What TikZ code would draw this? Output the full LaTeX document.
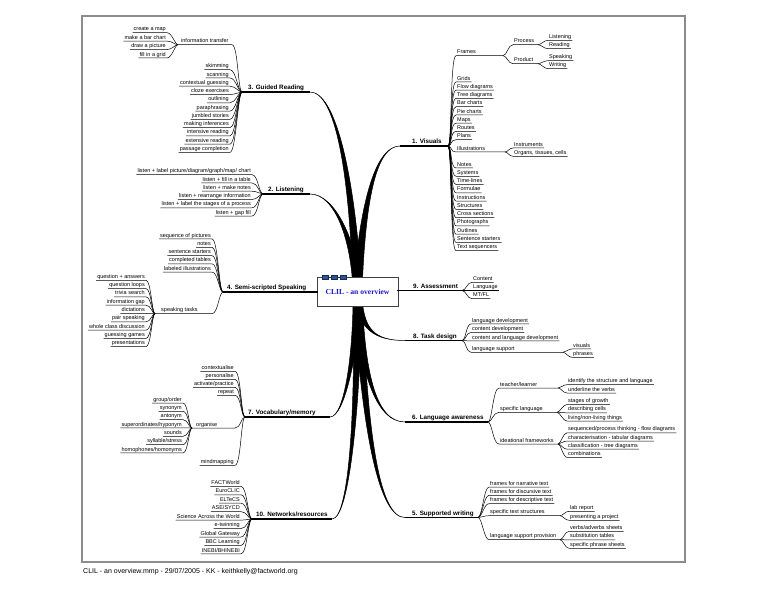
\documentclass[tikz,border=0pt]{standalone}
\usepackage{fontspec}
\setmainfont{Liberation Sans}
\newfontfamily\hubfont{Liberation Serif}
\usetikzlibrary{calc}

\definecolor{tabblue}{HTML}{2C5597}
\definecolor{hubblue}{HTML}{1A1AC8}

\tikzset{
  leaf/.style={font=\fontsize{5.5}{6}\selectfont,inner xsep=1pt,inner ysep=0.6pt,
    text height=4pt,text depth=1.1pt},
  topic/.style={font=\fontsize{6.3}{7}\selectfont\bfseries,anchor=south west,inner xsep=0pt,
    inner ysep=0.9pt,text height=4.6pt,text depth=1.3pt},
  twig/.style={line width=0.5pt},
  bough/.style={line width=1.1pt},
  hub/.style={draw=black!75,fill=white,line width=0.8pt,inner sep=0pt,
    minimum width=81pt,minimum height=29pt,text=hubblue,
    font=\hubfont\fontsize{7.6}{8}\selectfont\bfseries},
}

% tapered main branch from the hub: first control, second control, end
\newcommand\limb[3]{%
  \filldraw[line width=0.5pt] ($(ctr)+(-4.5,0)$) .. controls ($(#1)+(-2.5,0)$) and (#2) .. (#3)
    .. controls (#2) and ($(#1)+(2.5,0)$) .. ($(ctr)+(4.5,0)$) -- cycle;}

\begin{document}
\begin{tikzpicture}[x=1pt,y=-1pt]
\useasboundingbox (0,0) rectangle (768,593);
\draw[black!45,line width=1.5pt] (82,16) rectangle (685,562);

% hub and main branches
\coordinate (ctr) at (357.5,292);
\coordinate (gr-in) at (242,92);   \coordinate (gr-out) at (310,92);
\coordinate (li-in) at (263,194);  \coordinate (li-out) at (310,194);
\coordinate (ss-in) at (223,292);  \coordinate (ss-out) at (318,292);
\coordinate (vm-in) at (245,417);  \coordinate (vm-out) at (330,417);
\coordinate (nr-in) at (252,519);  \coordinate (nr-out) at (332,519);
\coordinate (vi-in) at (448,146);  \coordinate (vi-out) at (400,146);
\coordinate (as-in) at (462,290.5); \coordinate (as-out) at (397,290.5);
\coordinate (td-in) at (462,340.5); \coordinate (td-out) at (405,340.5);
\coordinate (la-in) at (488,422);  \coordinate (la-out) at (405,422);
\coordinate (sw-in) at (478,517.5); \coordinate (sw-out) at (405,517.5);

\limb{352,170}{335,92}{gr-out}
\limb{354,240}{335,194}{li-out}
\limb{356,350}{345,417}{vm-out}
\limb{358,400}{350,519}{nr-out}
\limb{363,195}{377,146}{vi-out}
\limb{360,330}{375,340.5}{td-out}
\limb{362,370}{375,422}{la-out}
\limb{365,440}{380,517.5}{sw-out}
\draw[bough] (ctr) -- (ss-out);
\draw[bough] (ctr) -- (as-out);

\node[hub] (hub) at (ctr) {CLIL - an overview};
\draw[tabblue!60!black,line width=0.6pt] (322,277.2) -- (346,277.2);
\foreach \x in {322,331,340}
  \filldraw[draw=tabblue!50!black,fill=tabblue,line width=0.4pt] (\x,275) rectangle +(6,4.5);

% 3. Guided Reading
\node[topic] (gr) at (248,92) {3. Guided Reading};
\draw[bough] (gr-in) -- (gr-out);
\node[leaf,anchor=south west] (it) at (180,44.7) {information transfer};
\coordinate (it-jn) at (178,44.7);
\coordinate (it-end) at (232,44.7);
\draw[twig] (it-jn) -- (it-end) .. controls +(6,0) and +(-4,0) .. (gr-in);
\foreach \t [count=\k from 0] in {create a map,make a bar chart,draw a picture,fill in a grid}{
  \node[leaf,anchor=south east] (it\k) at (167,{32.7+8.43*\k}) {\t};
  \draw[twig] (it\k.south west) -- (it\k.south east) .. controls +(5,0) and +(-3,0) .. (it-jn);
}
\foreach \t [count=\k from 0] in {skimming,scanning,contextual guessing,cloze exercises,outlining,
    paraphrasing,jumbled stories,making inferences,intensive reading,extensive reading,passage completion}{
  \node[leaf,anchor=south east] (gr\k) at (230,{69.7+8.27*\k}) {\t};
  \draw[twig] (gr\k.south west) -- (gr\k.south east) .. controls +(6,0) and +(-4,0) .. (gr-in);
}

% 2. Listening
\node[topic] (li) at (268,194) {2. Listening};
\draw[bough] (li-in) -- (li-out);
\foreach \t [count=\k from 0] in {listen + label picture/diagram/graph/map/ chart,listen + fill in a table,
    listen + make notes,listen + rearrange information,listen + label the stages of a process,listen + gap fill}{
  \node[leaf,anchor=south east] (li\k) at (252,{174.7+8.27*\k}) {\t};
  \draw[twig] (li\k.south west) -- (li\k.south east) .. controls +(6,0) and +(-4,0) .. (li-in);
}

% 4. Semi-scripted Speaking
\node[topic] (ss) at (227,292) {4. Semi-scripted Speaking};
\draw[bough] (ss-in) -- (ss-out);
\foreach \t [count=\k from 0] in {sequence of pictures,notes,sentence starters,completed tables,labeled illustrations}{
  \node[leaf,anchor=south east] (ss\k) at (212,{239+8.27*\k}) {\t};
  \draw[twig] (ss\k.south west) -- (ss\k.south east) .. controls +(6,0) and +(-4,0) .. (ss-in);
}
\node[leaf,anchor=south west] (st) at (160,313.7) {speaking tasks};
\coordinate (st-jn) at (155,313.7);
\coordinate (st-end) at (212,313.7);
\draw[twig] (st-jn) -- (st-end) .. controls +(6,0) and +(-4,0) .. (ss-in);
\foreach \t [count=\k from 0] in {question + answers,question loops,trivia search,information gap,dictations,
    pair speaking,whole class discussion,guessing games,presentations}{
  \node[leaf,anchor=south east] (st\k) at (146,{280.3+8.3*\k}) {\t};
  \draw[twig] (st\k.south west) -- (st\k.south east) .. controls +(5,0) and +(-3,0) .. (st-jn);
}

% 7. Vocabulary/memory
\node[topic] (vm) at (248,417) {7. Vocabulary/memory};
\draw[bough] (vm-in) -- (vm-out);
\foreach \t [count=\k from 0] in {contextualise,personalise,activate/practice,repeat}{
  \node[leaf,anchor=south east] (vm\k) at (235,{371.3+8*\k}) {\t};
  \draw[twig] (vm\k.south west) -- (vm\k.south east) .. controls +(6,0) and +(-4,0) .. (vm-in);
}
\node[leaf,anchor=south west] (or) at (195,428) {organise};
\coordinate (or-jn) at (192,428);
\coordinate (or-end) at (235,428);
\draw[twig] (or-jn) -- (or-end) .. controls +(6,0) and +(-4,0) .. (vm-in);
\foreach \t [count=\k from 0] in {group/order,synonym,antonym,superordinates/hyponym,sounds,
    syllable/stress,homophones/homonyms}{
  \node[leaf,anchor=south east] (or\k) at (183,{403+8.33*\k}) {\t};
  \draw[twig] (or\k.south west) -- (or\k.south east) .. controls +(5,0) and +(-3,0) .. (or-jn);
}
\node[leaf,anchor=south east] (mm) at (235,465.3) {mindmapping};
\draw[twig] (mm.south west) -- (mm.south east) .. controls +(6,0) and +(-4,0) .. (vm-in);

% 10. Networks/resources
\node[topic] (nr) at (256,519) {10. Networks/resources};
\draw[bough] (nr-in) -- (nr-out);
\foreach \t [count=\k from 0] in {FACTWorld,EuroCLIC,ELTeCS,ASE/SYCD,Science Across the World,
    e-twinning,Global Gateway,BBC Learning,INEBI/BHINEBI}{
  \node[leaf,anchor=south east] (nr\k) at (241,{486.3+8.45*\k}) {\t};
  \draw[twig] (nr\k.south west) -- (nr\k.south east) .. controls +(6,0) and +(-4,0) .. (nr-in);
}

% 1. Visuals
\node[topic] (vi) at (412,146) {1. Visuals};
\draw[bough] (vi-out) -- (vi-in);
\node[leaf,anchor=south west] (fr) at (456,55.7) {Frames};
\coordinate (fr-jn) at (503,55.7);
\draw[twig] (vi-in) .. controls +(4,0) and +(-6,0) .. (fr.south west) -- (fr-jn);
\node[leaf,anchor=south west] (pc) at (513,44.7) {Process};
\coordinate (pc-jn) at (538,44.7);
\node[leaf,anchor=south west] (pd) at (513,63.7) {Product};
\coordinate (pd-jn) at (538,63.7);
\draw[twig] (fr-jn) .. controls +(4,0) and +(-5,0) .. (pc.south west) -- (pc-jn);
\draw[twig] (fr-jn) .. controls +(4,0) and +(-5,0) .. (pd.south west) -- (pd-jn);
\node[leaf,anchor=south west] (pc0) at (548,40.3) {Listening};
\node[leaf,anchor=south west] (pc1) at (548,48.7) {Reading};
\node[leaf,anchor=south west] (pd0) at (548,60.7) {Speaking};
\node[leaf,anchor=south west] (pd1) at (548,68.7) {Writing};
\foreach \n in {pc0,pc1}
  \draw[twig] (pc-jn) .. controls +(3,0) and +(-4,0) .. (\n.south west) -- (\n.south east);
\foreach \n in {pd0,pd1}
  \draw[twig] (pd-jn) .. controls +(3,0) and +(-4,0) .. (\n.south west) -- (\n.south east);
\foreach \t [count=\k from 0] in {Grids,Flow diagrams,Tree diagrams,Bar charts,Pie charts,Maps,Routes,Plans}{
  \node[leaf,anchor=south west] (vi\k) at (456,{82+8.25*\k}) {\t};
  \draw[twig] (vi-in) .. controls +(4,0) and +(-6,0) .. (vi\k.south west) -- (vi\k.south east);
}
\node[leaf,anchor=south west] (il) at (456,152) {Illustrations};
\coordinate (il-jn) at (505,152);
\draw[twig] (vi-in) .. controls +(4,0) and +(-6,0) .. (il.south west) -- (il-jn);
\node[leaf,anchor=south west] (il0) at (513,148) {Instruments};
\node[leaf,anchor=south west] (il1) at (513,156.3) {Organs, tissues, cells};
\foreach \n in {il0,il1}
  \draw[twig] (il-jn) .. controls +(3,0) and +(-4,0) .. (\n.south west) -- (\n.south east);
\foreach \t [count=\k from 0] in {Notes,Systems,Time-lines,Formulae,Instructions,Structures,
    Cross sections,Photographs,Outlines,Sentence starters,Text sequencers}{
  \node[leaf,anchor=south west] (vt\k) at (456,{168+8.27*\k}) {\t};
  \draw[twig] (vi-in) .. controls +(4,0) and +(-6,0) .. (vt\k.south west) -- (vt\k.south east);
}

% 9. Assessment
\node[topic] (as) at (413,290.5) {9. Assessment};
\draw[bough] (as-out) -- (as-in);
\foreach \t [count=\k from 0] in {Content,Language,MT/FL}{
  \node[leaf,anchor=south west] (as\k) at (472,{282.3+8.2*\k}) {\t};
  \draw[twig] (as-in) .. controls +(4,0) and +(-5,0) .. (as\k.south west) -- (as\k.south east);
}

% 8. Task design
\node[topic] (td) at (413,340.5) {8. Task design};
\draw[bough] (td-out) -- (td-in);
\foreach \t [count=\k from 0] in {language development,content development,content and language development}{
  \node[leaf,anchor=south west] (td\k) at (471,{324+8.5*\k}) {\t};
  \draw[twig] (td-in) .. controls +(4,0) and +(-5,0) .. (td\k.south west) -- (td\k.south east);
}
\node[leaf,anchor=south west] (ls) at (471,352.3) {language support};
\coordinate (ls-jn) at (563,352.3);
\draw[twig] (td-in) .. controls +(4,0) and +(-5,0) .. (ls.south west) -- (ls-jn);
\node[leaf,anchor=south west] (ls0) at (572,349) {visuals};
\node[leaf,anchor=south west] (ls1) at (572,357.3) {phrases};
\foreach \n in {ls0,ls1}
  \draw[twig] (ls-jn) .. controls +(3,0) and +(-4,0) .. (\n.south west) -- (\n.south east);

% 6. Language awareness
\node[topic] (la) at (412,422) {6. Language awareness};
\draw[bough] (la-out) -- (la-in);
\node[leaf,anchor=south west] (tl) at (499,388) {teacher/learner};
\coordinate (tl-jn) at (558,388);
\node[leaf,anchor=south west] (sl) at (499,412.3) {specific language};
\coordinate (sl-jn) at (557,412.3);
\node[leaf,anchor=south west] (if) at (499,444) {ideational frameworks};
\coordinate (if-jn) at (558,444);
\draw[twig] (la-in) .. controls +(4,0) and +(-6,0) .. (tl.south west) -- (tl-jn);
\draw[twig] (la-in) .. controls +(4,0) and +(-6,0) .. (sl.south west) -- (sl-jn);
\draw[twig] (la-in) .. controls +(4,0) and +(-6,0) .. (if.south west) -- (if-jn);
\foreach \t [count=\k from 0] in {identify the structure and language,underline the verbs}{
  \node[leaf,anchor=south west] (tl\k) at (567,{384.7+8.3*\k}) {\t};
  \draw[twig] (tl-jn) .. controls +(3,0) and +(-4,0) .. (tl\k.south west) -- (tl\k.south east);
}
\foreach \t [count=\k from 0] in {stages of growth,describing cells,living/non-living things}{
  \node[leaf,anchor=south west] (sl\k) at (567,{404.5+8.3*\k}) {\t};
  \draw[twig] (sl-jn) .. controls +(3,0) and +(-4,0) .. (sl\k.south west) -- (sl\k.south east);
}
\foreach \t [count=\k from 0] in {sequenced/process thinking - flow diagrams,characterisation - tabular diagrams,
    classification - tree diagrams,combinations}{
  \node[leaf,anchor=south west] (if\k) at (567,{432.8+8.2*\k}) {\t};
  \draw[twig] (if-jn) .. controls +(3,0) and +(-4,0) .. (if\k.south west) -- (if\k.south east);
}

% 5. Supported writing
\node[topic] (sw) at (412,517.5) {5. Supported writing};
\draw[bough] (sw-out) -- (sw-in);
\foreach \t [count=\k from 0] in {frames for narrative text,frames for discursive text,frames for descriptive text}{
  \node[leaf,anchor=south west] (sw\k) at (489,{487+8.35*\k}) {\t};
  \draw[twig] (sw-in) .. controls +(4,0) and +(-5,0) .. (sw\k.south west) -- (sw\k.south east);
}
\node[leaf,anchor=south west] (sx) at (489,515.7) {specific text structures};
\coordinate (sx-jn) at (560,515.7);
\node[leaf,anchor=south west] (sp) at (489,539.7) {language support provision};
\coordinate (sp-jn) at (560,539.7);
\draw[twig] (sw-in) .. controls +(4,0) and +(-5,0) .. (sx.south west) -- (sx-jn);
\draw[twig] (sw-in) .. controls +(4,0) and +(-5,0) .. (sp.south west) -- (sp-jn);
\foreach \t [count=\k from 0] in {lab report,presenting a project}{
  \node[leaf,anchor=south west] (sx\k) at (569,{511.3+9*\k}) {\t};
  \draw[twig] (sx-jn) .. controls +(3,0) and +(-4,0) .. (sx\k.south west) -- (sx\k.south east);
}
\foreach \t [count=\k from 0] in {verbs/adverbs sheets,substitution tables,specific phrase sheets}{
  \node[leaf,anchor=south west] (sp\k) at (569,{531.3+8.5*\k}) {\t};
  \draw[twig] (sp-jn) .. controls +(3,0) and +(-4,0) .. (sp\k.south west) -- (sp\k.south east);
}

% footer
\node[anchor=base west,inner sep=0pt,font=\fontsize{7}{8}\selectfont] (foot) at (83,573.5)
  {CLIL - an overview.mmp - 29/07/2005 - KK - keithkelly@factworld.org};
\end{tikzpicture}
\end{document}
